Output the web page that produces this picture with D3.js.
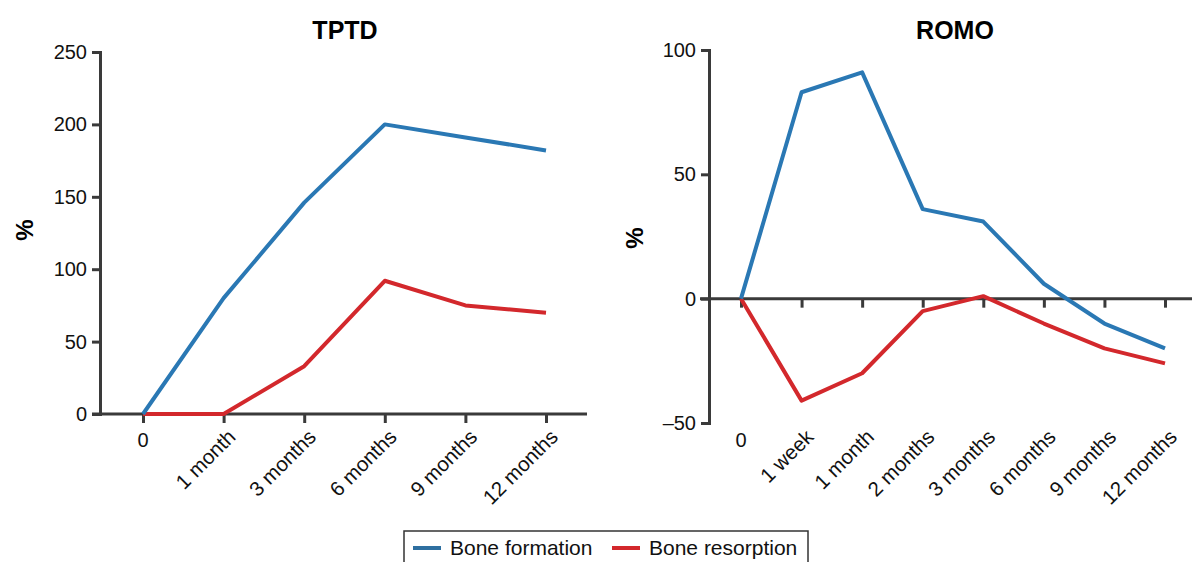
<!DOCTYPE html>
<html>
<head>
<meta charset="utf-8">
<script src="https://cdn.jsdelivr.net/npm/d3@7"></script>
<style>
  body { margin: 0; background: #fff; }
  svg { display: block; font-family: "Liberation Sans", Arial, sans-serif; }
</style>
</head>
<body>
<svg id="chart" width="1192" height="562"></svg>
<script>
// TPTD panel
const tptdCats = ["0", "1 month", "3 months", "6 months", "9 months", "12 months"];
const tptdFormation = [0, 80, 146, 200, 191, 182];
const tptdResorption = [0, 0, 33, 92, 75, 70];
const tptdTicks = [0, 50, 100, 150, 200, 250];

// ROMO panel
const romoCats = ["0", "1 week", "1 month", "2 months", "3 months", "6 months", "9 months", "12 months"];
const romoFormation = [0, 83, 91, 36, 31, 6, -10, -20];
const romoResorption = [0, -41, -30, -5, 1, -10, -20, -26];
const romoTicks = [-50, 0, 50, 100];

const blue = "#2a78b4";
const red = "#d3282c";
const axisColor = "#3a3a3a";

const svg = d3.select("#chart");

function panel(opt) {
  const g = svg.append("g");
  const x = d3.scalePoint().domain(opt.cats).range(opt.xRange);
  const y = d3.scaleLinear().domain(opt.yDomain).range(opt.yRange);

  // title
  g.append("text")
    .attr("x", opt.titleX).attr("y", 39)
    .attr("text-anchor", "middle")
    .attr("font-size", "25px").attr("font-weight", "bold")
    .text(opt.title);

  // y label
  g.append("text")
    .attr("transform", `translate(${opt.yLabelX},${opt.yLabelY}) rotate(-90)`)
    .attr("text-anchor", "middle")
    .attr("font-size", "24px").attr("font-weight", "bold")
    .text("%");

  // y axis
  const yAxis = g.append("g")
    .attr("transform", `translate(${opt.yAxisX},0)`)
    .call(d3.axisLeft(y).tickValues(opt.ticks).tickSize(8).tickPadding(5)
      .tickFormat(d => d < 0 ? "\u2013" + Math.abs(d) : d));
  yAxis.select(".domain").attr("stroke", axisColor).attr("stroke-width", 3);
  yAxis.selectAll(".tick line").attr("stroke", axisColor).attr("stroke-width", 3);
  yAxis.selectAll(".tick text").attr("font-size", "20px").attr("fill", "#111");

  // horizontal zero axis with ticks
  const y0 = y(0);
  const xAxis = g.append("g")
    .attr("transform", `translate(0,${y0})`)
    .call(d3.axisBottom(x).tickSize(9).tickFormat(""));
  xAxis.select(".domain").remove();
  xAxis.selectAll(".tick line").attr("stroke", axisColor).attr("stroke-width", 3);
  g.append("line")
    .attr("x1", opt.zeroLine[0]).attr("x2", opt.zeroLine[1])
    .attr("y1", y0).attr("y2", y0)
    .attr("stroke", axisColor).attr("stroke-width", 3);

  // category labels
  opt.cats.forEach((c, i) => {
    if (i === 0) {
      g.append("text")
        .attr("x", x(c)).attr("y", opt.labelY + 23)
        .attr("text-anchor", "middle")
        .attr("font-size", "20px").attr("fill", "#111")
        .text(c);
    } else {
      g.append("text")
        .attr("transform", `translate(${x(c) + 3},${opt.labelY + 4}) rotate(-45)`)
        .attr("text-anchor", "end")
        .attr("dy", "0.7em")
        .attr("font-size", "20.5px").attr("fill", "#111")
        .text(c);
    }
  });

  const line = d3.line().x((d, i) => x(opt.cats[i])).y(d => y(d));

  g.append("path").datum(opt.resorption)
    .attr("d", line).attr("fill", "none")
    .attr("stroke", red).attr("stroke-width", 4).attr("stroke-linejoin", "round");
  g.append("path").datum(opt.formation)
    .attr("d", line).attr("fill", "none")
    .attr("stroke", blue).attr("stroke-width", 4).attr("stroke-linejoin", "round");
}

panel({
  title: "TPTD", titleX: 345,
  cats: tptdCats, formation: tptdFormation, resorption: tptdResorption, ticks: tptdTicks,
  xRange: [143, 546], yDomain: [0, 250], yRange: [414, 52],
  yAxisX: 100, zeroLine: [92, 587], labelY: 424,
  yLabelX: 33, yLabelY: 230
});

panel({
  title: "ROMO", titleX: 955,
  cats: romoCats, formation: romoFormation, resorption: romoResorption, ticks: romoTicks,
  xRange: [741, 1165], yDomain: [-50, 100], yRange: [423, 50],
  yAxisX: 709, zeroLine: [700, 1192], labelY: 424,
  yLabelX: 643, yLabelY: 238
});

// legend
const legend = svg.append("g");
legend.append("rect")
  .attr("x", 404).attr("y", 531).attr("width", 404).attr("height", 40)
  .attr("fill", "#fff").attr("stroke", "#333").attr("stroke-width", 1.5);
const items = [
  { label: "Bone formation", color: "#2e6fa0", x: 413 },
  { label: "Bone resorption", color: red, x: 612 }
];
items.forEach(it => {
  legend.append("line")
    .attr("x1", it.x).attr("x2", it.x + 28).attr("y1", 548).attr("y2", 548)
    .attr("stroke", it.color).attr("stroke-width", 4);
  legend.append("text")
    .attr("x", it.x + 37).attr("y", 555)
    .attr("font-size", "21px").attr("fill", "#111")
    .text(it.label);
});
</script>
</body>
</html>
